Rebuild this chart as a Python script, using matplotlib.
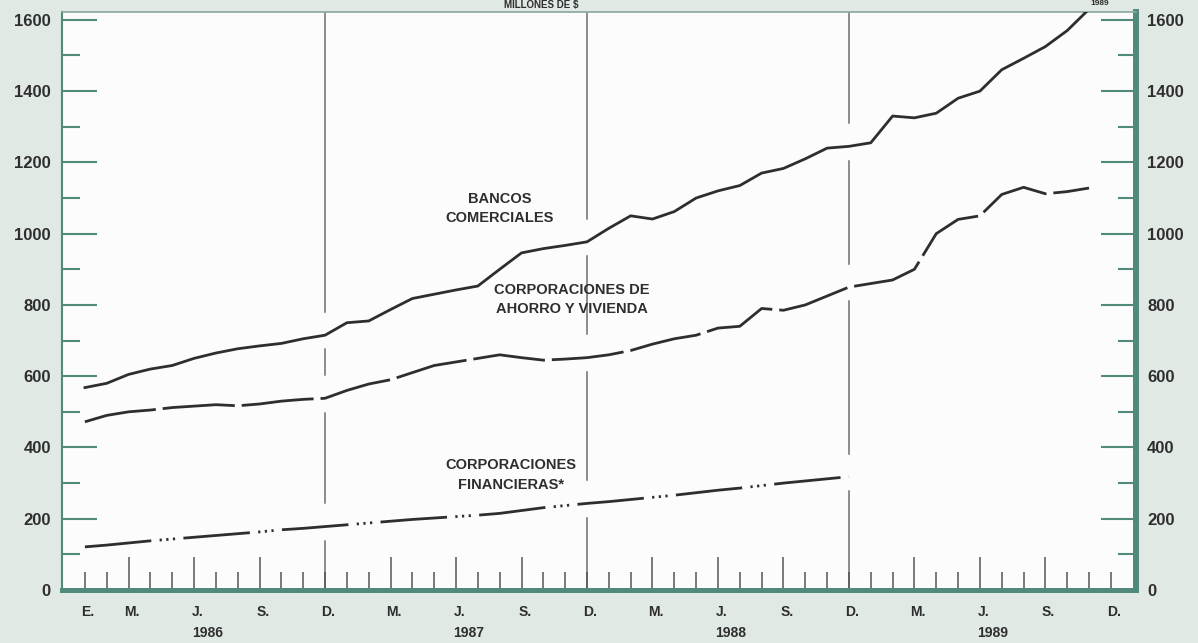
import matplotlib.pyplot as plt
import matplotlib.transforms as mtransforms
import numpy as np

plt.rcParams['font.family'] = ['Liberation Sans', 'DejaVu Sans']

# monthly series, Jan 1986 = 0
bancos = [568, 580, 605, 620, 630, 650, 665, 677, 685, 692, 705, 715,
          750, 755, 787, 818, 830, 842, 853, 900, 946, 958, 967, 977,
          1015, 1050, 1041, 1062, 1100, 1120, 1135, 1170, 1183, 1210, 1240, 1245,
          1255, 1330, 1325, 1338, 1380, 1400, 1460, 1492, 1525, 1570, 1630]
ahorro = [472, 490, 500, 505, 512, 516, 520, 517, 522, 530, 535, 538,
          560, 578, 590, 610, 630, 640, 650, 660, 652, 645, 648, 652,
          660, 672, 690, 705, 715, 735, 740, 790, 785, 800, 825, 850,
          860, 870, 900, 1000, 1040, 1050, 1110, 1130, 1112, 1118, 1128]
financieras = [121, 126, 132, 138, 143, 148, 153, 158, 163, 169, 173, 178,
               183, 188, 193, 198, 202, 206, 210, 215, 223, 231, 237, 243,
               248, 254, 260, 266, 273, 280, 286, 293, 300, 306, 312, 318]

# month labels along the axis (E. only on the first year)
month_letters = ['E.'] + ['M.', 'J.', 'S.', 'D.'] * 4
letter_months = [0] + [m + 12 * k for k in range(4) for m in (2, 5, 8, 11)]
years = ['1986', '1987', '1988', '1989']

bg = '#e1e9e4'
teal = '#4f8a7b'
ink = '#2e2e2e'
ymax = 1622

fig = plt.figure(figsize=(11.98, 6.43), dpi=100, facecolor=bg)
ax = fig.add_axes([62 / 1198, 53 / 643, (1136 - 62) / 1198, (590 - 12) / 643])
ax.set_facecolor('#fbfcfb')
ax.set_xlim(-1.05, 48.15)
ax.set_ylim(0, ymax)

# year dividers, broken where the series cross
for m in [11, 23, 35]:
    vals = sorted(s[m] for s in (bancos, ahorro, financieras) if m < len(s))
    start = 0
    for v in vals:
        ax.plot([m, m], [start, v - 40], color='#6e6e6e', lw=1.1, zorder=1)
        start = v + 65
    ax.plot([m, m], [start, ymax], color='#6e6e6e', lw=1.1, zorder=1)

l1, = ax.plot(range(len(bancos)), bancos, color=ink, lw=2.0, zorder=3)
l2, = ax.plot(range(len(ahorro)), ahorro, color=ink, lw=2.0, zorder=3)
l2.set_dashes([26, 2.5])
l3, = ax.plot(range(len(financieras)), financieras, color=ink, lw=2.0, zorder=3)
l3.set_dashes([24, 3, 0.8, 1.6, 0.8, 1.6, 0.8, 3])

lab = dict(ha='center', va='center', fontsize=10.5, fontweight='bold', color=ink,
           linespacing=1.5)
ax.text(19.0, 1070, 'BANCOS\nCOMERCIALES', **lab)
ax.text(22.3, 815, 'CORPORACIONES DE\nAHORRO Y VIVIENDA', **lab)
ax.text(19.5, 323, 'CORPORACIONES\nFINANCIERAS*', **lab)

# spines
for side in ['left', 'bottom', 'right', 'top']:
    ax.spines[side].set_color(teal)
ax.spines['left'].set_linewidth(1.5)
ax.spines['top'].set_linewidth(1.2)
ax.spines['top'].set_color('#8aa79e')
ax.spines['bottom'].set_linewidth(3.6)
ax.spines['right'].set_linewidth(4.3)

# y ticks on both sides
yt = np.arange(0, 1601, 200)
ax.set_yticks(yt)
ax.set_yticks(np.arange(100, 1600, 200), minor=True)
ax.yaxis.set_ticks_position('both')
ax.tick_params(axis='y', which='major', direction='in', length=25, width=1.5,
               color=teal, labelsize=12, pad=8, labelright=True, labelleft=True)
ax.tick_params(axis='y', which='minor', direction='in', length=13, width=1.5,
               color=teal)
for t in ax.get_yticklabels():
    t.set_fontweight('bold')
    t.set_color(ink)

# x ticks: every month, longer at quarters
quarter = [m + 12 * k for k in range(4) for m in (2, 5, 8)]
ax.set_xticks(quarter)
ax.set_xticks(np.arange(48), minor=True)
ax.xaxis.set_ticks_position('bottom')
ax.tick_params(axis='x', which='major', direction='in', length=24, width=1.1,
               color='#555555', labelbottom=False)
ax.tick_params(axis='x', which='minor', direction='in', length=13, width=1.1,
               color='#555555')

tr = ax.get_xaxis_transform()
for m, s in zip(letter_months, month_letters):
    ax.text(m + 0.15, -0.038, s, transform=tr, ha='center', va='center',
            fontsize=10, fontweight='bold', color=ink)
tr_year = mtransforms.blended_transform_factory(ax.transData, fig.transFigure)
for k, yr in enumerate(years):
    ax.text(12 * k + 5.6, 3 / 643, yr, transform=tr_year, ha='center', va='bottom',
            fontsize=10, fontweight='bold', color=ink)

fig.text(0.452, 1.0, 'MILLONES DE $', ha='center', va='top', fontsize=7,
         fontweight='bold', color=ink)
fig.text(0.918, 1.0, '1989', ha='center', va='top', fontsize=6,
         fontweight='bold', color=ink)

fig.savefig('out.png', dpi=100, facecolor=bg)
